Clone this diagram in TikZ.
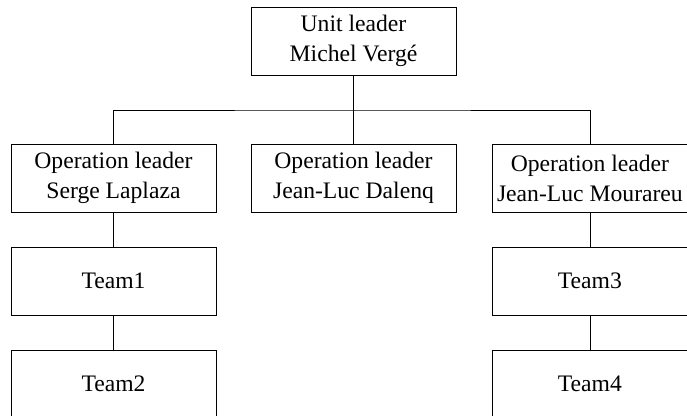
\documentclass[tikz,border=0pt]{standalone}
\usepackage{fontspec}
\setmainfont{Liberation Serif}
\usepackage{tikz}
\usetikzlibrary{positioning, calc}
\tikzstyle{orgbox} = [draw, line width=0.9pt, align=center, inner sep=0pt, minimum width=8.2cm, minimum height=2.72cm, font=\fontsize{26.9}{34}\selectfont]

\begin{document}
\begin{tikzpicture}[x=0.04cm, y=-0.04cm, line width=0.9pt]

    \useasboundingbox (0, 0) rectangle (687, 415);

    % The unit leader
    \node (unit) [orgbox] at (353.5, 41) {Unit leader\\Michel Vergé};

    % Operation leaders
    \node (opA) [orgbox] at (113.5, 178) {Operation leader\\Serge Laplaza};
    \node (opB) [orgbox] at (353.5, 178) {Operation leader\\Jean-Luc Dalenq};
    \node (opC) [orgbox, anchor=west, minimum width=7.8cm] at (492, 178) {Operation leader\\Jean-Luc Mourareu};

    % The teams
    \node (team1) [orgbox] at (113.5, 281) {Team1};
    \node (team2) [orgbox] at (113.5, 384) {Team2};
    \node (team3) [orgbox, anchor=west, minimum width=7.8cm] at (492, 281) {Team3};
    \node (team4) [orgbox, anchor=west, minimum width=7.8cm] at (492, 384) {Team4};

    % The lines
    \coordinate (bus) at (353.5, 110);
    \draw (unit.south) -- (opB.north);
    \draw (opA.north) |- (bus) -| (opC.north);
    \draw (opA.south) -- (team1.north);
    \draw (team1.south) -- (team2.north);
    \draw (opC.south) -- (team3.north);
    \draw (team3.south) -- (team4.north);

\end{tikzpicture}
\end{document}
